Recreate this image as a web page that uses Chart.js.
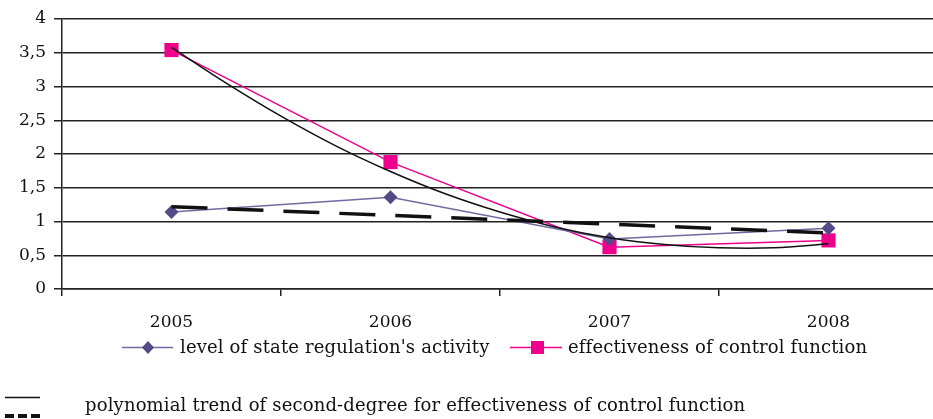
<!DOCTYPE html>
<html><head><meta charset="utf-8">
<script src="https://cdn.jsdelivr.net/npm/chart.js@4"></script>
<style>
html,body{margin:0;padding:0;background:#fff;overflow:hidden;width:933px;height:419px;position:relative}
#wrap{position:absolute;left:0;top:0;width:948px;height:340px}
.lg{position:absolute;font-family:"DejaVu Serif",serif;font-size:18px;color:#111;white-space:nowrap;line-height:20px;height:20px;letter-spacing:0.15px}
svg{position:absolute;overflow:visible}
</style></head><body>
<div id="wrap"><canvas id="c" width="948" height="340"></canvas></div>

<svg style="left:0;top:0" width="933" height="419">
  <line x1="122" y1="347.5" x2="173" y2="347.5" stroke="#6f6aa0" stroke-width="1.5"/>
  <polygon points="148,341 154,347.5 148,354 142,347.5" fill="#534b86"/>
  <line x1="510" y1="347.5" x2="562" y2="347.5" stroke="#ec008c" stroke-width="1.5"/>
  <rect x="531" y="341" width="13" height="13" fill="#ec008c"/>
  <line x1="5" y1="397.5" x2="40" y2="397.5" stroke="#111" stroke-width="1.5"/>
  <line x1="5" y1="416" x2="40" y2="416" stroke="#111" stroke-width="4" stroke-dasharray="9,4"/>
</svg>
<div class="lg" id="t1" style="left:180px;top:337px">level of state regulation's activity</div>
<div class="lg" id="t2" style="left:568px;top:337px">effectiveness of control function</div>
<div class="lg" id="t3" style="left:85px;top:395px">polynomial trend of second-degree for effectiveness of control function</div>

<script>
const categories = ['2005', '2006', '2007', '2008'];
const stateRegulationActivity = [1.14, 1.36, 0.74, 0.90];
const controlFunctionEffectiveness = [3.54, 1.88, 0.62, 0.72];
const linearTrendActivity = [1.22, 1.09, 0.96, 0.83];
const polyTrendPositions = [0, 0.25, 0.5, 0.75, 1, 1.25, 1.5, 1.75, 2, 2.25, 2.5, 2.75, 3];
const polyTrendValues = [3.58, 3.05, 2.56, 2.12, 1.74, 1.41, 1.14, 0.92, 0.76, 0.66, 0.61, 0.61, 0.67];
const yTicks = [0, 0.5, 1, 1.5, 2, 2.5, 3, 3.5, 4];

const tickFont = {family: '"DejaVu Serif", serif', size: 17};
const axisColor = '#222';

new Chart(document.getElementById('c'), {
  type: 'line',
  data: {
    labels: categories,
    datasets: [
      {
        label: 'poly', xAxisID: 'x2',
        data: polyTrendPositions.map((p, i) => ({x: p, y: polyTrendValues[i]})),
        borderColor: '#111', borderWidth: 1.5, pointRadius: 0, tension: 0.4, fill: false
      },
      {
        label: 'linear', xAxisID: 'x',
        data: linearTrendActivity,
        borderColor: '#111', borderWidth: 3.5, borderDash: [36, 20], pointRadius: 0, tension: 0, fill: false
      },
      {
        label: "level of state regulation's activity", xAxisID: 'x',
        data: stateRegulationActivity,
        borderColor: '#6f6aa0', borderWidth: 1.5, tension: 0,
        pointStyle: 'rectRot', pointRadius: 7, pointBackgroundColor: '#534b86', pointBorderColor: '#534b86', pointBorderWidth: 0
      },
      {
        label: 'effectiveness of control function', xAxisID: 'x',
        data: controlFunctionEffectiveness,
        borderColor: '#ec008c', borderWidth: 1.5, tension: 0,
        pointStyle: 'rect', pointRadius: 10, pointBackgroundColor: '#ec008c', pointBorderColor: '#ec008c', pointBorderWidth: 0
      }
    ]
  },
  options: {
    responsive: false, animation: false, devicePixelRatio: 1,
    layout: {padding: {top: 19, left: 0, right: 0, bottom: 0}},
    plugins: {legend: {display: false}, tooltip: {enabled: false}},
    scales: {
      x: {
        type: 'category', offset: true,
        grid: {offset: true, drawOnChartArea: false, drawTicks: true, tickLength: 7, color: axisColor, lineWidth: 1.5},
        border: {display: true, color: axisColor, width: 1.5},
        ticks: {font: tickFont, color: '#111', padding: 16, maxRotation: 0},
        afterFit(s) { s.height = 51; }
      },
      x2: {type: 'linear', min: -0.5, max: 3.5, display: false},
      y: {
        min: 0, max: 4,
        afterBuildTicks(s) { s.ticks = yTicks.map(v => ({value: v})); },
        ticks: {font: tickFont, color: '#111', padding: 8, callback: v => String(v).replace('.', ',')},
        grid: {color: axisColor, lineWidth: 1.5, tickLength: 8},
        border: {display: true, color: axisColor, width: 1.5},
        afterFit(s) { s.width = 62; }
      }
    }
  }
});
</script>
</body></html>
